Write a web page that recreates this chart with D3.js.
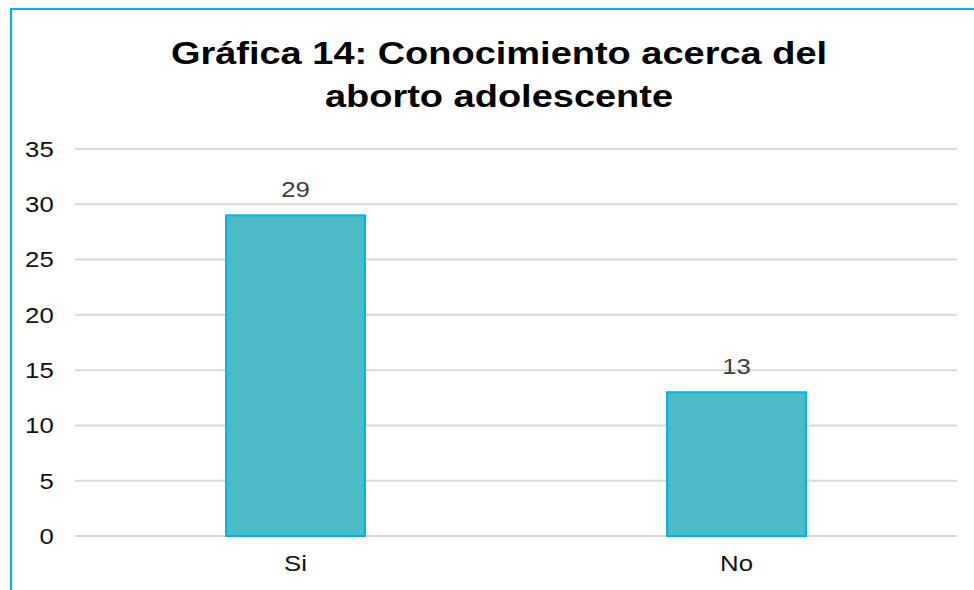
<!DOCTYPE html>
<html>
<head>
<meta charset="utf-8">
<script src="https://cdn.jsdelivr.net/npm/d3@7"></script>
<style>
  body { margin: 0; background: #fff; }
  svg { display: block; font-family: "Liberation Sans", Arial, sans-serif; }
</style>
</head>
<body>
<svg id="chart"></svg>
<script>
// chart data
var categories = ["Si", "No"];
var values = [29, 13];
var yTicks = [0, 5, 10, 15, 20, 25, 30, 35];
var titleLines = ["Gráfica 14: Conocimiento acerca del", "aborto adolescente"];

var width = 974, height = 590;
var plot = {left: 75, right: 957, top: 149, bottom: 536};
// the source picture is a little stretched sideways
var stretch = 1.12, titleStretch = 1.225;

var svg = d3.select("#chart")
  .attr("width", width)
  .attr("height", height);

// chart frame (runs off the right and bottom edge)
svg.append("rect")
  .attr("x", 11).attr("y", 9)
  .attr("width", 980).attr("height", 600)
  .attr("fill", "#fff")
  .attr("stroke", "#00B0F0")
  .attr("stroke-width", 2);

var x = d3.scaleBand()
  .domain(categories)
  .range([plot.left, plot.right])
  .paddingInner(0.685)
  .paddingOuter(0.3425);

var y = d3.scaleLinear()
  .domain([0, 35])
  .range([plot.bottom, plot.top]);

// gridlines
svg.append("g").selectAll("line")
  .data(yTicks)
  .enter().append("line")
  .attr("x1", plot.left).attr("x2", plot.right)
  .attr("y1", function(d){ return y(d); })
  .attr("y2", function(d){ return y(d); })
  .attr("stroke", "#D9D9D9")
  .attr("stroke-width", 2);

// y axis labels
var yAxis = d3.axisLeft(y).tickValues(yTicks).tickSize(0).tickPadding(19);
var gy = svg.append("g")
  .attr("transform", "translate(" + plot.left + ",0)")
  .call(yAxis);
gy.select(".domain").remove();
gy.selectAll("text")
  .attr("font-size", 23)
  .attr("fill", "#111")
  .attr("font-family", "Liberation Sans, Arial, sans-serif")
  .attr("transform", "scale(" + stretch + ",1)");

// x axis labels
var xAxis = d3.axisBottom(x).tickSize(0).tickPadding(19);
var gx = svg.append("g")
  .attr("transform", "translate(0," + plot.bottom + ")")
  .call(xAxis);
gx.select(".domain").remove();
gx.selectAll("text")
  .attr("font-size", 23)
  .attr("fill", "#111")
  .attr("font-family", "Liberation Sans, Arial, sans-serif")
  .attr("transform", "scale(" + stretch + ",1)");

// bars
svg.append("g").selectAll("rect")
  .data(values)
  .enter().append("rect")
  .attr("x", function(d, i){ return x(categories[i]); })
  .attr("y", function(d){ return y(d); })
  .attr("width", x.bandwidth())
  .attr("height", function(d){ return y(0) - y(d); })
  .attr("fill", "#4BBBC5")
  .attr("stroke", "#00B0F0")
  .attr("stroke-width", 2);

// data labels
svg.append("g").selectAll("text")
  .data(values)
  .enter().append("text")
  .attr("transform", function(d, i){
    return "translate(" + (x(categories[i]) + x.bandwidth() / 2) + "," + (y(d) - 18) + ") scale(" + stretch + ",1)";
  })
  .attr("text-anchor", "middle")
  .attr("font-size", 23)
  .attr("fill", "#404040")
  .text(function(d){ return d; });

// title
svg.append("g").selectAll("text")
  .data(titleLines)
  .enter().append("text")
  .attr("transform", function(d, i){
    return "translate(499," + (64 + i * 43) + ") scale(" + titleStretch + ",1)";
  })
  .attr("text-anchor", "middle")
  .attr("font-size", 31)
  .attr("font-weight", "bold")
  .attr("fill", "#000")
  .text(function(d){ return d; });
</script>
</body>
</html>
